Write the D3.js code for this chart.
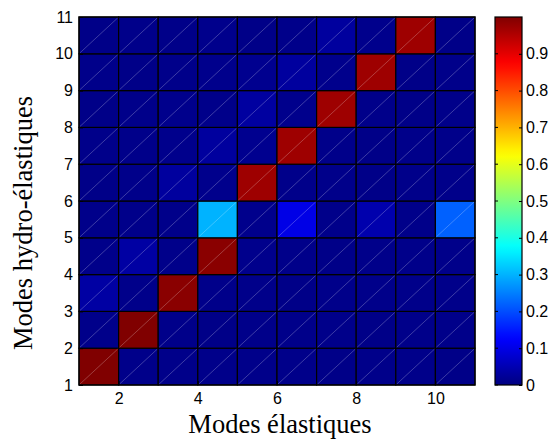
<!DOCTYPE html>
<html><head><meta charset="utf-8">
<script src="https://cdn.jsdelivr.net/npm/d3@7"></script>
<style>body{margin:0;background:#fff}svg{display:block}</style>
</head><body>
<svg id="c" width="552" height="439"></svg>
<script>
// Modes élastiques (x) vs modes hydro-élastiques (y)
const xModes = [1,2,3,4,5,6,7,8,9,10];
const yModes = [1,2,3,4,5,6,7,8,9,10];
const xTicks = [2,4,6,8,10];
const yTicks = [1,2,3,4,5,6,7,8,9,10,11];
const cbTicks = [0,0.1,0.2,0.3,0.4,0.5,0.6,0.7,0.8,0.9];
// values per hydro-elastic mode (row), columns = elastic modes 1..10
const row1  = [1.00,0.010,0.010,0.010,0.010,0.010,0.008,0.010,0.010,0.008];
const row2  = [0.010,1.00,0.010,0.008,0.010,0.010,0.010,0.008,0.010,0.010];
const row3  = [0.035,0.010,0.99,0.010,0.010,0.008,0.010,0.010,0.010,0.010];
const row4  = [0.010,0.035,0.010,0.99,0.012,0.010,0.008,0.010,0.010,0.010];
const row5  = [0.010,0.010,0.010,0.30,0.012,0.10,0.010,0.045,0.010,0.22];
const row6  = [0.008,0.010,0.030,0.012,0.97,0.010,0.010,0.008,0.010,0.010];
const row7  = [0.010,0.010,0.012,0.030,0.015,0.97,0.010,0.008,0.010,0.010];
const row8  = [0.008,0.010,0.012,0.010,0.032,0.012,0.97,0.010,0.008,0.010];
const row9  = [0.010,0.008,0.010,0.012,0.015,0.030,0.012,0.97,0.008,0.010];
const row10 = [0.008,0.010,0.009,0.012,0.008,0.010,0.030,0.012,0.97,0.008];
const rows = [row1,row2,row3,row4,row5,row6,row7,row8,row9,row10];

function jet(v){
  const c = t => Math.max(0, Math.min(1, t));
  const r = c(Math.min(4*v-1.5, -4*v+4.5));
  const g = c(Math.min(4*v-0.5, -4*v+3.5));
  const b = c(Math.min(4*v+0.5, -4*v+2.5));
  return d3.rgb(r*255, g*255, b*255).formatHex();
}

const svg = d3.select("#c");
const L = 79, R = 475, T = 17, B = 385;
const x = d3.scaleLinear().domain([1,11]).range([L,R]);
const y = d3.scaleLinear().domain([1,11]).range([B,T]);

const cells = [];
rows.forEach((row,i)=>row.forEach((v,j)=>cells.push({xm:xModes[j], ym:yModes[i], v})));

const g = svg.append("g");
g.selectAll("rect.cell").data(cells).join("rect")
  .attr("class","cell")
  .attr("x", d=>x(d.xm)).attr("y", d=>y(d.ym+1))
  .attr("width", d=>x(d.xm+1)-x(d.xm)).attr("height", d=>y(d.ym)-y(d.ym+1))
  .attr("fill", d=>jet(d.v))
  .attr("stroke","#000").attr("stroke-width",1.2);
g.selectAll("line.diag").data(cells).join("line")
  .attr("class","diag")
  .attr("x1", d=>x(d.xm)+1).attr("y1", d=>y(d.ym)-1)
  .attr("x2", d=>x(d.xm+1)-1).attr("y2", d=>y(d.ym+1)+1)
  .attr("stroke","#fff").attr("stroke-opacity",0.3).attr("stroke-width",0.8);

// frame
svg.append("rect").attr("x",L).attr("y",T).attr("width",R-L).attr("height",B-T)
  .attr("fill","none").attr("stroke","#000").attr("stroke-width",1.2);

const font = "'Liberation Sans', Arial, sans-serif";
// x axis
const xa = svg.append("g").attr("transform",`translate(0,${B})`)
  .call(d3.axisBottom(x).tickValues(xTicks).tickSize(-4).tickPadding(8).tickFormat(d3.format("d")));
// y axis
const ya = svg.append("g").attr("transform",`translate(${L},0)`)
  .call(d3.axisLeft(y).tickValues(yTicks).tickSize(-4).tickPadding(6).tickFormat(d3.format("d")));
[xa,ya].forEach(a=>{
  a.select(".domain").remove();
  a.selectAll("text").attr("font-family",font).attr("font-size",16).attr("fill","#000");
  a.selectAll("line").attr("stroke","#000");
});

// colorbar
const CL = 495, CR = 522;
const cy = d3.scaleLinear().domain([0,1]).range([B,T]);
const defs = svg.append("defs");
const grad = defs.append("linearGradient").attr("id","jetg")
  .attr("x1","0").attr("y1","1").attr("x2","0").attr("y2","0");
d3.range(0,1.0001,0.02).forEach(t=>grad.append("stop").attr("offset",t).attr("stop-color",jet(t)));
svg.append("rect").attr("x",CL).attr("y",T).attr("width",CR-CL).attr("height",B-T)
  .attr("fill","url(#jetg)").attr("stroke","#000").attr("stroke-width",1.2);
const ca = svg.append("g").attr("transform",`translate(${CR},0)`)
  .call(d3.axisRight(cy).tickValues(cbTicks).tickSize(-3).tickPadding(4).tickFormat(d=>d===0?"0":d3.format(".1f")(d)));
ca.select(".domain").remove();
ca.selectAll("text").attr("font-family",font).attr("font-size",16).attr("fill","#000");
ca.selectAll("line").attr("stroke","#000");
svg.append("g").selectAll("line").data(cbTicks).join("line")
  .attr("x1",CL).attr("x2",CL+3).attr("y1",d=>cy(d)).attr("y2",d=>cy(d)).attr("stroke","#000");

// axis labels
const serif = "'Liberation Serif', 'DejaVu Serif', serif";
svg.append("text").attr("x",(L+R)/2 + 3).attr("y",433).attr("text-anchor","middle")
  .attr("font-family",serif).attr("font-size",26.5).text("Modes élastiques");
svg.append("text").attr("transform",`translate(32,223) rotate(-90)`).attr("text-anchor","middle")
  .attr("font-family",serif).attr("font-size",26.5).text("Modes hydro-élastiques");
</script>
</body></html>
